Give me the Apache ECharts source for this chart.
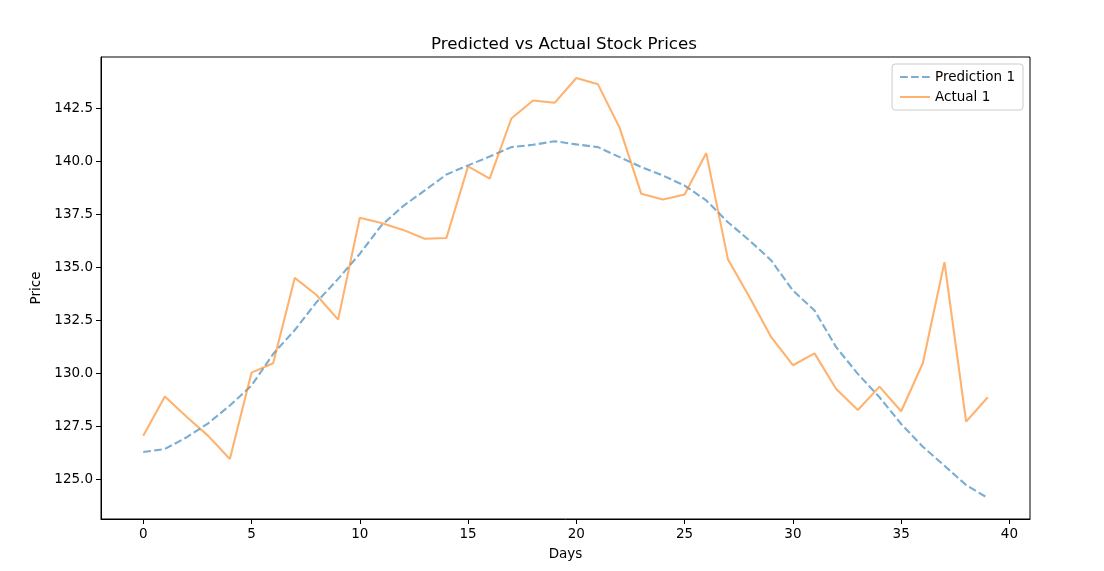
<!DOCTYPE html>
<html>
<head>
<meta charset="utf-8">
<script src="https://cdn.jsdelivr.net/npm/echarts@6/dist/echarts.min.js"></script>
<style>
html,body{margin:0;padding:0;background:#fff;}
#chart{width:1104px;height:571px;}
</style>
</head>
<body>
<div id="chart"></div>
<script>
const days = Array.from({length: 40}, (_, i) => i);
const prediction1 = [126.29, 126.43, 126.98, 127.64, 128.48, 129.42, 130.91, 132.04, 133.35, 134.45,
  135.63, 136.97, 137.88, 138.62, 139.37, 139.80, 140.22, 140.66, 140.77, 140.94,
  140.79, 140.66, 140.19, 139.72, 139.32, 138.85, 138.15, 137.12, 136.26, 135.32,
  133.90, 132.96, 131.23, 129.97, 128.87, 127.61, 126.54, 125.64, 124.73, 124.12];
const actual1 = [127.06, 128.90, 127.95, 127.05, 125.96, 130.03, 130.47, 134.50, 133.69, 132.53,
  137.33, 137.08, 136.76, 136.34, 136.38, 139.75, 139.18, 142.01, 142.86, 142.75,
  143.92, 143.62, 141.57, 138.46, 138.19, 138.43, 140.38, 135.38, 133.58, 131.70,
  130.38, 130.94, 129.26, 128.27, 129.37, 128.21, 130.47, 135.24, 127.72, 128.87];
const xTicks = [0, 5, 10, 15, 20, 25, 30, 35, 40];
const yTicks = [125.0, 127.5, 130.0, 132.5, 135.0, 137.5, 140.0, 142.5];

const font = 'DejaVu Sans';
const chart = echarts.init(document.getElementById('chart'), null, {renderer: 'canvas'});
const allY = prediction1.concat(actual1);
const yMin = Math.min(...allY), yMax = Math.max(...allY);
const yPad = (yMax - yMin) * 0.05;
const xPad = (days[days.length - 1] - days[0]) * 0.05;

chart.setOption({
  animation: false,
  backgroundColor: '#fff',
  title: {
    text: 'Predicted vs Actual Stock Prices',
    left: 559, top: 31, textAlign: 'center',
    textStyle: {fontFamily: font, fontSize: 16.7, fontWeight: 'normal', color: '#000'}
  },
  legend: {
    right: 81, top: 64, orient: 'vertical',
    itemWidth: 30, itemHeight: 10, itemGap: 6,
    padding: [6, 8, 6, 7],
    borderColor: '#cccccc', borderWidth: 1, borderRadius: 3,
    backgroundColor: 'rgba(255,255,255,0.8)',
    itemStyle: {opacity: 0},
    textStyle: {fontFamily: font, fontSize: 13.5, color: '#000'},
    data: ['Prediction 1', 'Actual 1']
  },
  grid: {left: 101, right: 74, top: 57, bottom: 52, show: true, borderColor: '#000', borderWidth: 1, containLabel: false},
  xAxis: {
    type: 'value', min: days[0] - xPad, max: days[days.length - 1] + xPad,
    name: 'Days', nameLocation: 'middle', nameGap: 28,
    nameTextStyle: {fontFamily: font, fontSize: 13.5, color: '#000'},
    axisLine: {show: true, onZero: false, lineStyle: {color: '#000', width: 1}},
    axisTick: {show: true, length: 5, lineStyle: {color: '#000'}, customValues: xTicks},
    axisLabel: {fontFamily: font, fontSize: 13.5, color: '#000', margin: 8, customValues: xTicks},
    splitLine: {show: false}
  },
  yAxis: {
    type: 'value', min: yMin - yPad, max: yMax + yPad,
    name: 'Price', nameLocation: 'middle', nameGap: 55,
    nameTextStyle: {fontFamily: font, fontSize: 13.5, color: '#000'},
    axisLine: {show: true, onZero: false, lineStyle: {color: '#000', width: 1}},
    axisTick: {show: true, length: 5, lineStyle: {color: '#000'}, customValues: yTicks},
    axisLabel: {fontFamily: font, fontSize: 13.5, color: '#000', margin: 8, customValues: yTicks,
      formatter: v => v.toFixed(1)},
    splitLine: {show: false}
  },
  series: [
    {
      name: 'Prediction 1', type: 'line', showSymbol: false, symbol: 'none',
      data: days.map((d, i) => [d, prediction1[i]]),
      itemStyle: {color: '#1f77b4', opacity: 0.6},
      lineStyle: {color: '#1f77b4', width: 2.1, opacity: 0.6, type: [7.7, 3.3]}
    },
    {
      name: 'Actual 1', type: 'line', showSymbol: false, symbol: 'none',
      data: days.map((d, i) => [d, actual1[i]]),
      itemStyle: {color: '#ff7f0e', opacity: 0.6},
      lineStyle: {color: '#ff7f0e', width: 2.1, opacity: 0.6}
    }
  ]
});
</script>
</body>
</html>
